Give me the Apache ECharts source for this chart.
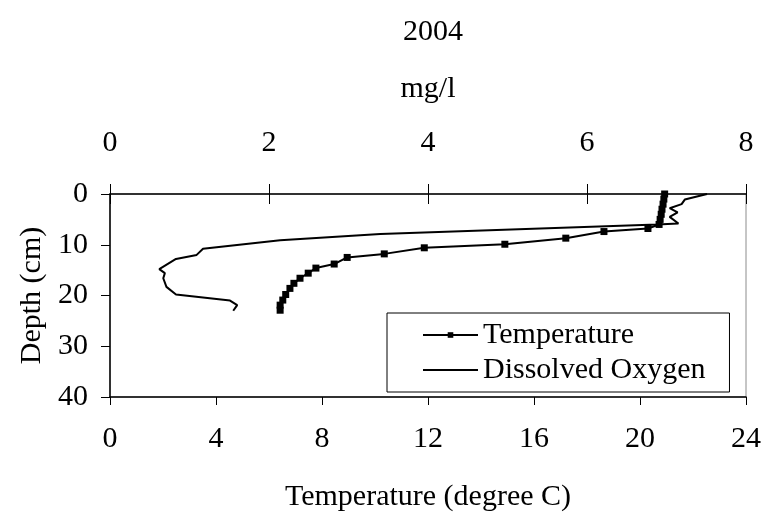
<!DOCTYPE html>
<html>
<head>
<meta charset="utf-8">
<script src="https://cdn.jsdelivr.net/npm/echarts@6/dist/echarts.min.js"></script>
<style>
  html, body { margin: 0; padding: 0; background: #fff; }
  #chart { width: 766px; height: 522px; }
</style>
</head>
<body>
<div id="chart"></div>
<script>
// Sediment profile, 2004: temperature (bottom axis) and dissolved oxygen (top axis) vs depth
const tempDepth = [0, 1, 2, 3, 4, 5, 6, 6.8, 7.4, 8.7, 9.9, 10.6, 11.8, 12.5, 13.8, 14.6, 15.6, 16.6, 17.6, 18.6, 19.8, 20.9, 21.9, 22.9];
const tempValues = [20.93, 20.9, 20.87, 20.83, 20.8, 20.76, 20.72, 20.3, 18.64, 17.2, 14.9, 11.86, 10.35, 8.95, 8.46, 7.77, 7.48, 7.17, 6.94, 6.79, 6.63, 6.52, 6.42, 6.42];

const doDepth = [0, 1.1, 2.0, 2.8, 3.6, 4.5, 5.8, 6.0, 7.9, 9.1, 10.8, 12.0, 12.8, 14.8, 15.6, 16.6, 18.3, 19.8, 21.0, 21.9, 23.0];
const doValues = [7.51, 7.23, 7.19, 7.04, 7.14, 7.04, 7.15, 6.88, 3.40, 2.14, 1.17, 1.09, 0.83, 0.62, 0.69, 0.67, 0.71, 0.83, 1.51, 1.60, 1.55];

const tempTicks = { min: 0, max: 24, interval: 4 };
const oxygenTicks = { min: 0, max: 8, interval: 2 };
const depthTicks = { min: 0, max: 40, interval: 10 };

const FONT = '"Liberation Serif", "Times New Roman", serif';
const FS = 30;

const tempData = tempDepth.map((d, i) => [tempValues[i], d]);
const doData = doDepth.map((d, i) => [doValues[i], d]);

const chart = echarts.init(document.getElementById('chart'), null, { renderer: 'canvas' });
chart.setOption({
  animation: false,
  backgroundColor: '#ffffff',
  textStyle: { fontFamily: FONT, color: '#000' },
  title: {
    text: '2004',
    left: 428,
    top: 12,
    textAlign: 'center',
    textStyle: { fontFamily: FONT, fontSize: FS, fontWeight: 'normal', color: '#000' }
  },
  grid: {
    left: 110, right: 20, top: 194, bottom: 125,
    show: true, borderColor: '#8c8c8c', borderWidth: 1, backgroundColor: 'transparent'
  },
  legend: {
    orient: 'vertical',
    left: 387, top: 313,
    padding: [7, 24, 7, 35],
    itemGap: 5,
    itemWidth: 55,
    itemHeight: 7,
    itemTextGap: 11,
    borderColor: '#000', borderWidth: 1,
    backgroundColor: '#fff',
    textStyle: { fontFamily: FONT, fontSize: FS, color: '#000' },
    data: [
      'Temperature',
      // plain line key: hide the marker ECharts adds to line icons
      { name: 'Dissolved Oxygen', itemStyle: { color: 'rgba(0,0,0,0)', borderWidth: 0, opacity: 0 } }
    ]
  },
  xAxis: [
    {
      type: 'value', position: 'bottom', ...tempTicks,
      name: 'Temperature (degree C)', nameLocation: 'middle', nameGap: 85,
      nameTextStyle: { fontFamily: FONT, fontSize: FS, color: '#000' },
      axisLine: { show: true, onZero: false, lineStyle: { color: '#000', width: 1.5 } },
      axisTick: { show: true, inside: false, length: 8, lineStyle: { color: '#000', width: 1 } },
      axisLabel: { fontFamily: FONT, fontSize: FS, color: '#000', margin: 27 },
      splitLine: { show: false }
    },
    {
      type: 'value', position: 'top', ...oxygenTicks,
      name: 'mg/l', nameLocation: 'middle', nameGap: 90,
      nameTextStyle: { fontFamily: FONT, fontSize: FS, color: '#000' },
      axisLine: { show: true, onZero: false, lineStyle: { color: '#000', width: 1.5 } },
      axisTick: { show: true, inside: false, length: 10, lineStyle: { color: '#000', width: 1 } },
      axisLabel: { fontFamily: FONT, fontSize: FS, color: '#000', margin: 36 },
      splitLine: { show: false }
    },
    {
      // inner half of the crossing ticks on the oxygen axis
      type: 'value', position: 'top', ...oxygenTicks,
      axisLine: { show: false, onZero: false },
      axisTick: { show: true, inside: true, length: 10, lineStyle: { color: '#000', width: 1 } },
      axisLabel: { show: false },
      splitLine: { show: false }
    }
  ],
  yAxis: {
    type: 'value', inverse: true, ...depthTicks,
    name: 'Depth (cm)', nameLocation: 'middle', nameGap: 61, nameRotate: 90,
    nameTextStyle: { fontFamily: FONT, fontSize: FS, color: '#000' },
    axisLine: { show: true, onZero: false, lineStyle: { color: '#000', width: 1.5 } },
    axisTick: { show: true, inside: false, length: 9, lineStyle: { color: '#000', width: 1 } },
    axisLabel: { fontFamily: FONT, fontSize: FS, color: '#000', margin: 22 },
    splitLine: { show: false }
  },
  series: [
    {
      name: 'Temperature',
      type: 'line',
      xAxisIndex: 0,
      data: tempData,
      symbol: 'rect',
      symbolSize: 7,
      color: '#000',
      lineStyle: { color: '#000', width: 2 },
      itemStyle: { color: '#000' },
      z: 3
    },
    {
      name: 'Dissolved Oxygen',
      type: 'line',
      xAxisIndex: 1,
      data: doData,
      symbol: 'none',
      showSymbol: false,
      color: '#000',
      lineStyle: { color: '#000', width: 2 },
      itemStyle: { color: '#000' },
      z: 2
    }
  ]
});
</script>
</body>
</html>
